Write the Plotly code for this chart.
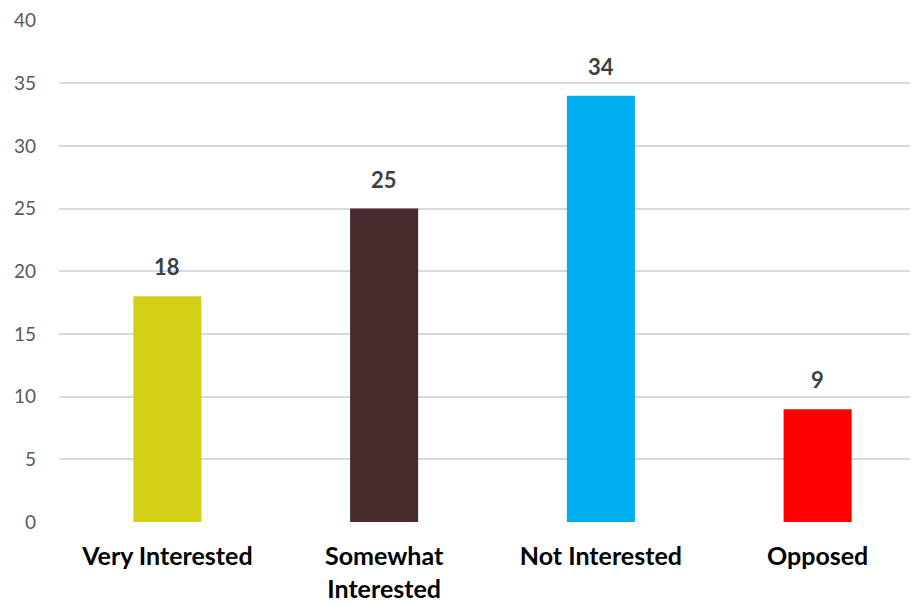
import plotly.graph_objects as go

categories = ["Very Interested", "Somewhat Interested", "Not Interested", "Opposed"]
tick_labels = ["Very Interested", "Somewhat<br>Interested", "Not Interested", "Opposed"]
values = [18, 25, 34, 9]
colors = ["#D4D017", "#472A2B", "#00B0F0", "#FF0000"]

fig = go.Figure()
fig.add_trace(go.Bar(
    x=categories, y=values, marker=dict(color=colors, line=dict(width=0)),
    width=0.314, hoverinfo="skip",
))

for c, v in zip(categories, values):
    fig.add_annotation(x=c, y=v, text=f"<b>{v}</b>", showarrow=False,
                       yanchor="bottom", yshift=14,
                       font=dict(family="Lato, Carlito, sans-serif", size=22, color="#404040"))

fig.update_layout(
    width=918, height=605,
    margin=dict(l=51, r=0, t=12, b=91, autoexpand=False),
    plot_bgcolor="white", paper_bgcolor="white",
    showlegend=False,
    font=dict(family="Lato, Carlito, sans-serif"),
)
fig.update_xaxes(
    range=[-0.5, 3.5], tickmode="array", tickvals=categories, ticktext=tick_labels,
    tickfont=dict(size=25, color="#000000", family="Lato, sans-serif", weight="bold"),
    showgrid=False, zeroline=False, showline=False, ticks="", ticklabelstandoff=17,
    automargin=False,
)
fig.update_yaxes(
    range=[0, 40.04], tickmode="array", tickvals=[0, 5, 10, 15, 20, 25, 30, 35, 40],
    tickfont=dict(size=19, color="#595959"),
    showgrid=True, gridcolor="#D9D9D9", gridwidth=1.5,
    zeroline=False, showline=False, ticks="", ticklabelstandoff=22,
    automargin=False,
)

fig.write_html("out.html")
